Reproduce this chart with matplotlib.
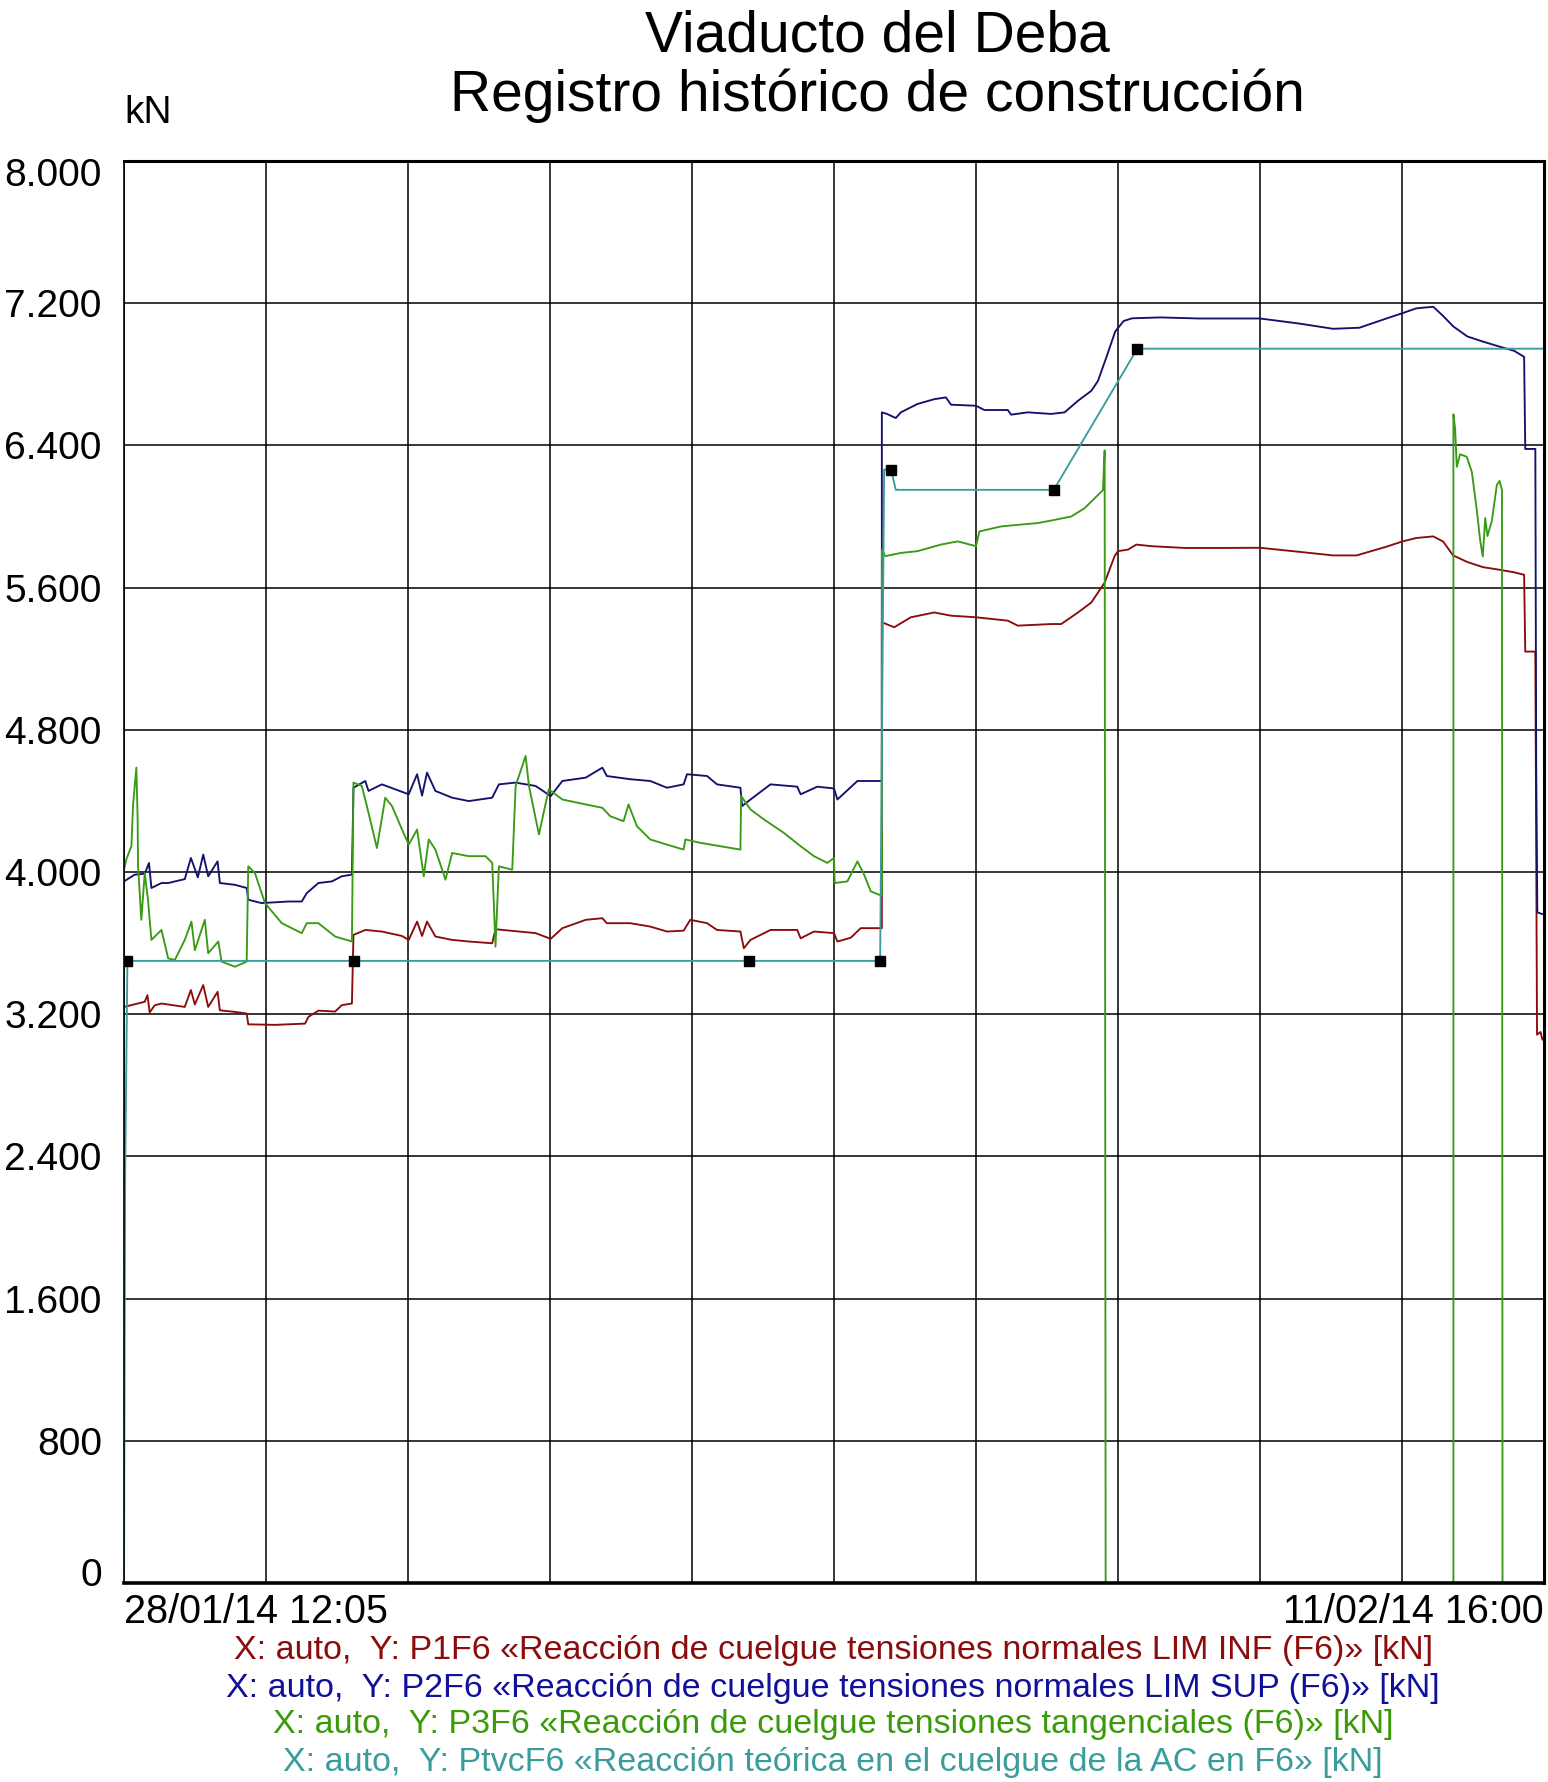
import matplotlib
matplotlib.use("Agg")
import matplotlib.pyplot as plt
from matplotlib.transforms import ScaledTranslation

plt.rcParams['font.family'] = ['Liberation Sans', 'DejaVu Sans']

# ---- data (x in grid divisions from 28/01/14 12:05 to 11/02/14 16:00) ----
red_x = [0.000, 0.052, 0.146, 0.165, 0.181, 0.216, 0.264, 0.428, 0.471, 0.499, 0.558, 0.593, 0.659, 0.675,
         0.781, 0.864, 0.875, 1.064, 1.275, 1.299, 1.369, 1.487, 1.534, 1.605, 1.616, 1.699, 1.816, 1.958,
         2.005, 2.064, 2.099, 2.134, 2.193, 2.311, 2.428, 2.593, 2.616, 2.899, 3.005, 3.087, 3.252, 3.369,
         3.400, 3.565, 3.706, 3.824, 3.941, 3.988, 4.106, 4.176, 4.341, 4.365, 4.412, 4.553, 4.741, 4.765,
         4.859, 5.000, 5.024, 5.118, 5.188, 5.318, 5.337, 5.337, 5.424, 5.541, 5.706, 5.824, 6.000, 6.224,
         6.294, 6.529, 6.600, 6.718, 6.812, 6.906, 6.976, 7.000, 7.071, 7.129, 7.235, 7.471, 7.706, 8.000,
         8.280, 8.515, 8.680, 8.890, 9.000, 9.100, 9.220, 9.290, 9.360, 9.460, 9.570, 9.690, 9.790, 9.860,
         9.868, 9.939, 9.951, 9.976, 9.988, 10.000]
red_y = [3241, 3251, 3270, 3307, 3210, 3250, 3260, 3241, 3336, 3255, 3364, 3241, 3326, 3222,
         3213, 3204, 3143, 3140, 3147, 3185, 3220, 3215, 3251, 3260, 3646, 3674, 3665, 3640,
         3618, 3721, 3640, 3721, 3637, 3618, 3609, 3599, 3678, 3656, 3624, 3684, 3731, 3740,
         3712, 3712, 3693, 3665, 3670, 3731, 3712, 3674, 3665, 3571, 3618, 3674, 3674, 3627,
         3665, 3656, 3609, 3630, 3684, 3684, 3684, 5405, 5377, 5433, 5460, 5442, 5433, 5414,
         5386, 5395, 5395, 5460, 5516, 5628, 5777, 5805, 5814, 5842, 5833, 5823, 5823, 5824,
         5801, 5781, 5781, 5830, 5859, 5879, 5888, 5859, 5781, 5744, 5715, 5700, 5686, 5672,
         5240, 5240, 3085, 3100, 3060, 3050]

blue_x = [0.000, 0.075, 0.146, 0.176, 0.193, 0.264, 0.311, 0.428, 0.471, 0.520, 0.558, 0.593, 0.659, 0.675,
          0.781, 0.864, 0.875, 0.969, 1.158, 1.252, 1.287, 1.369, 1.464, 1.534, 1.605, 1.616, 1.699, 1.722,
          1.816, 1.911, 2.005, 2.064, 2.099, 2.134, 2.193, 2.311, 2.428, 2.593, 2.640, 2.758, 2.899, 3.005,
          3.087, 3.252, 3.369, 3.400, 3.565, 3.706, 3.824, 3.941, 3.965, 4.106, 4.176, 4.341, 4.353, 4.412,
          4.553, 4.741, 4.765, 4.882, 5.000, 5.024, 5.165, 5.318, 5.337, 5.337, 5.373, 5.435, 5.471, 5.588,
          5.706, 5.788, 5.824, 6.000, 6.059, 6.224, 6.247, 6.365, 6.529, 6.624, 6.718, 6.812, 6.859, 6.920,
          6.980, 7.040, 7.100, 7.300, 7.570, 8.000, 8.280, 8.515, 8.700, 8.890, 9.000, 9.100, 9.220, 9.290,
          9.360, 9.460, 9.570, 9.690, 9.790, 9.860, 9.868, 9.939, 9.945, 9.953, 10.000]
blue_y = [3947, 3985, 3990, 4051, 3910, 3938, 3938, 3960, 4079, 3970, 4098, 3976, 4060, 3938,
          3928, 3910, 3844, 3825, 3834, 3834, 3881, 3938, 3947, 3976, 3985, 4474, 4512, 4456,
          4493, 4465, 4437, 4550, 4430, 4559, 4456, 4418, 4399, 4418, 4493, 4503, 4484, 4427,
          4512, 4531, 4587, 4540, 4522, 4512, 4474, 4493, 4550, 4540, 4493, 4474, 4371, 4408,
          4493, 4480, 4437, 4480, 4470, 4408, 4512, 4512, 4512, 6586, 6577, 6554, 6586, 6633,
          6660, 6670, 6629, 6623, 6599, 6599, 6573, 6586, 6577, 6586, 6651, 6707, 6763, 6900,
          7040, 7100, 7115, 7120, 7114, 7114, 7085, 7056, 7062, 7114, 7143, 7171, 7180, 7128,
          7070, 7013, 6984, 6955, 6932, 6898, 6380, 6380, 4600, 3773, 3760]

green_x = [0.000, 0.016, 0.052, 0.064, 0.087, 0.096, 0.099, 0.122, 0.146, 0.169, 0.193, 0.264, 0.311, 0.358,
           0.428, 0.475, 0.499, 0.569, 0.593, 0.664, 0.687, 0.781, 0.864, 0.875, 0.922, 0.993, 1.111, 1.252,
           1.287, 1.369, 1.487, 1.605, 1.616, 1.675, 1.722, 1.781, 1.840, 1.887, 1.958, 2.005, 2.064, 2.111,
           2.146, 2.193, 2.264, 2.311, 2.428, 2.546, 2.593, 2.616, 2.640, 2.734, 2.758, 2.828, 2.852, 2.922,
           2.991, 3.087, 3.252, 3.369, 3.424, 3.518, 3.553, 3.612, 3.706, 3.824, 3.941, 3.953, 4.059, 4.200,
           4.341, 4.346, 4.412, 4.506, 4.647, 4.765, 4.859, 4.953, 5.000, 5.005, 5.094, 5.165, 5.212, 5.259,
           5.318, 5.337, 5.337, 5.361, 5.471, 5.588, 5.753, 5.871, 6.000, 6.024, 6.176, 6.294, 6.435, 6.553,
           6.671, 6.765, 6.859, 6.894, 6.906, 6.913, 9.362, 9.362, 9.374, 9.386, 9.409, 9.456, 9.492, 9.527,
           9.551, 9.569, 9.586, 9.602, 9.633, 9.668, 9.687, 9.704, 9.708, 10.000]
green_y = [4013, 4070, 4145, 4380, 4587, 4300, 4032, 3731, 3994, 3844, 3618, 3674, 3514, 3505,
           3618, 3721, 3560, 3731, 3543, 3609, 3496, 3467, 3496, 4032, 3994, 3825, 3712, 3656,
           3712, 3712, 3637, 3609, 4503, 4484, 4333, 4135, 4418, 4371, 4239, 4154, 4239, 3976,
           4183, 4126, 3957, 4107, 4089, 4089, 4051, 3580, 4032, 4013, 4484, 4653, 4484, 4211,
           4465, 4408, 4380, 4361, 4314, 4286, 4380, 4258, 4183, 4154, 4126, 4183, 4164, 4145,
           4126, 4427, 4352, 4296, 4220, 4145, 4089, 4051, 4079, 3938, 3947, 4060, 3985, 3891,
           3872, 3872, 5814, 5777, 5795, 5805, 5842, 5860, 5833, 5916, 5944, 5953, 5963, 5981,
           6000, 6047, 6121, 6149, 6372, 0, 0, 6575, 6494, 6279, 6350, 6336, 6250, 6034,
           5862, 5775, 5991, 5890, 5977, 6178, 6200, 6149, 0, 0]

teal_x = [0.000, 0.008, 0.024, 1.621, 4.402, 5.325, 5.353, 5.402, 5.435, 6.548, 7.136, 10.000]
teal_y = [0, 2300, 3500, 3500, 3500, 3500, 6264, 6264, 6150, 6150, 6944, 6944]
teal_markers = [2, 3, 4, 5, 7, 9, 10]

y_ticks = [0, 800, 1600, 2400, 3200, 4000, 4800, 5600, 6400, 7200, 8000]
y_tick_labels = ['0', '800', '1.600', '2.400', '3.200', '4.000', '4.800', '5.600', '6.400', '7.200', '8.000']
x_start_label = '28/01/14 12:05'
x_end_label = '11/02/14 16:00'
title_lines = ['Viaducto del Deba', 'Registro histórico de construcción']
legend_texts = [
    'X: auto,  Y: P1F6 «Reacción de cuelgue tensiones normales LIM INF (F6)» [kN]',
    'X: auto,  Y: P2F6 «Reacción de cuelgue tensiones normales LIM SUP (F6)» [kN]',
    'X: auto,  Y: P3F6 «Reacción de cuelgue tensiones tangenciales (F6)» [kN]',
    'X: auto,  Y: PtvcF6 «Reacción teórica en el cuelgue de la AC en F6» [kN]',
]

c_red = '#8a0c0c'
c_blue = '#12126e'
c_green = '#3a9a16'
c_teal = '#3a9c9c'

W, H = 1548, 1782
fig = plt.figure(figsize=(W / 100, H / 100), dpi=100)
ax = fig.add_axes([124 / W, 1 - 1583 / H, (1544 - 124) / W, (1583 - 161) / H])

LW = 1.35
ax.plot(red_x, red_y, color=c_red, lw=LW, zorder=3)
ax.plot(blue_x, blue_y, color=c_blue, lw=LW, zorder=3)
ax.plot(green_x, green_y, color=c_green, lw=LW, zorder=3)
ax.plot(teal_x, teal_y, color=c_teal, lw=LW, zorder=4,
        marker='s', markevery=teal_markers, markersize=7, markerfacecolor='black', markeredgecolor='black')

ax.set_xlim(0, 10)
ax.set_ylim(0, 8000)
ax.set_xticks(range(0, 11))
ax.set_xticklabels([])
ax.set_yticks(y_ticks)
ax.set_yticklabels(y_tick_labels)
ax.tick_params(axis='both', length=0)
ax.tick_params(axis='y', labelsize=28, pad=16)
ax.grid(True, color='black', lw=1.1, zorder=1)
ax.set_axisbelow(True)
ylabels = ax.get_yticklabels()
ylabels[0].set_transform(ylabels[0].get_transform() + ScaledTranslation(0, 11 / 100, fig.dpi_scale_trans))
ylabels[-1].set_transform(ylabels[-1].get_transform() + ScaledTranslation(0, -11 / 100, fig.dpi_scale_trans))

for side, lw in [('left', 1.2), ('bottom', 2.6), ('top', 2.2), ('right', 2.2)]:
    ax.spines[side].set_linewidth(lw)
    ax.spines[side].set_color('black')
    ax.spines[side].set_zorder(5)

fig.text(124 / W, 1 - 1612 / H, x_start_label, ha='left', va='center', fontsize=28.5)
fig.text(1544 / W, 1 - 1612 / H, x_end_label, ha='right', va='center', fontsize=28.5)
fig.text(148 / W, 1 - 113 / H, 'kN', ha='center', va='center', fontsize=28)
fig.text(877 / W, 1 - 36 / H, title_lines[0], ha='center', va='center', fontsize=41)
fig.text(877 / W, 1 - 96 / H, title_lines[1], ha='center', va='center', fontsize=41)

leg_colors = [c_red, '#10109a', '#3a9a0a', c_teal]
leg_y = [1650, 1688, 1725, 1763]
for t, c, yy in zip(legend_texts, leg_colors, leg_y):
    fig.text(833 / W, 1 - yy / H, t, ha='center', va='center', fontsize=24.5, color=c)

fig.savefig('out.png', dpi=100, facecolor='white')
